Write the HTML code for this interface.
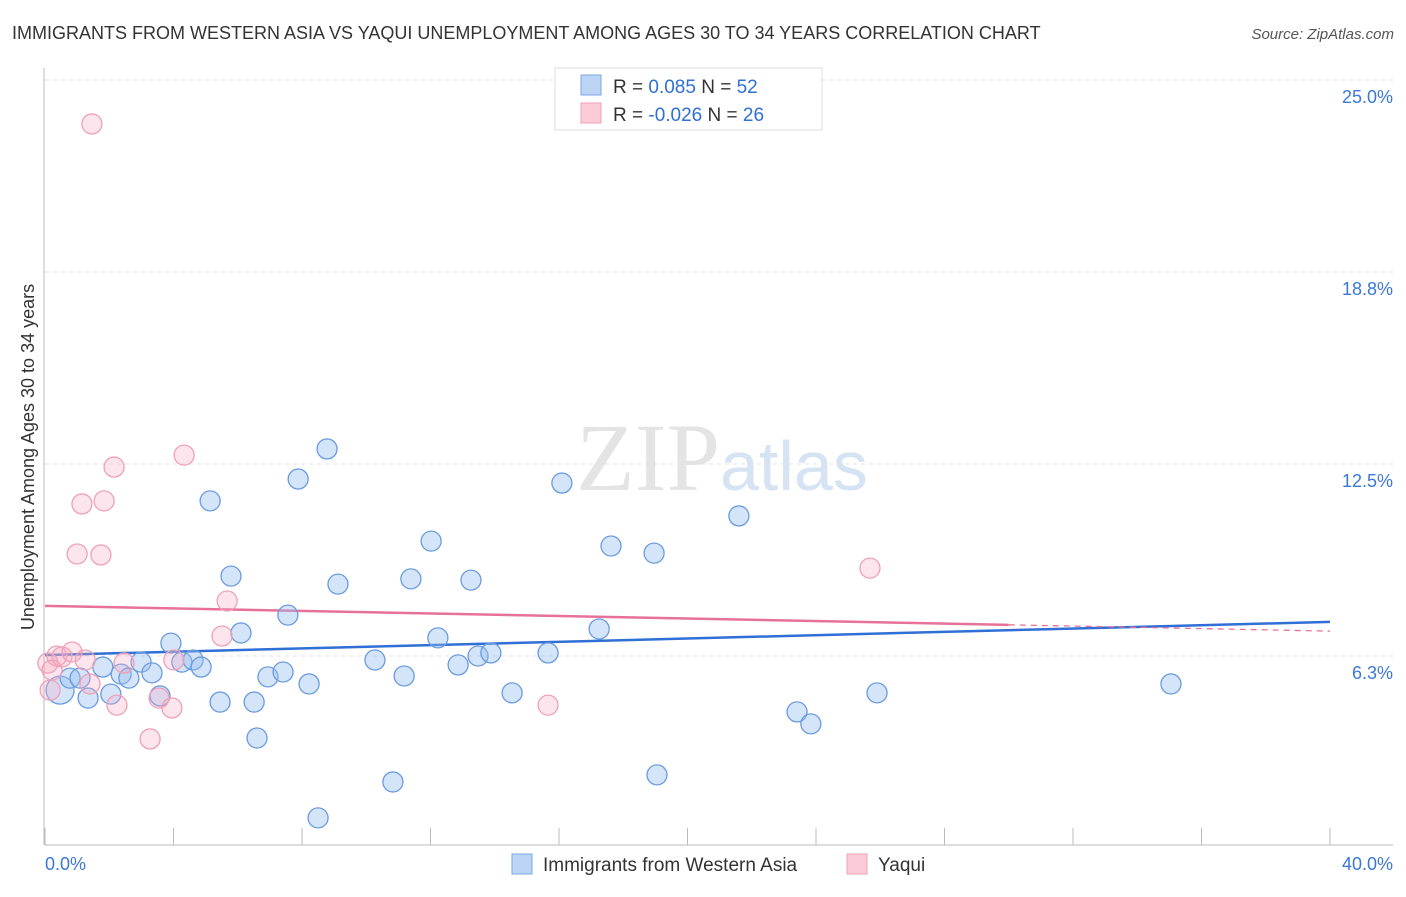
<!DOCTYPE html>
<html><head><meta charset="utf-8"><style>
body{margin:0;background:#fff;font-family:"Liberation Sans",sans-serif}
</style></head><body>
<svg width="1406" height="892" xmlns="http://www.w3.org/2000/svg" id="svg" style="font-family:'Liberation Sans',sans-serif">
<text x="12" y="39" font-size="18" fill="#333">IMMIGRANTS FROM WESTERN ASIA VS YAQUI UNEMPLOYMENT AMONG AGES 30 TO 34 YEARS CORRELATION CHART</text>
<text x="1394" y="39" font-size="15" fill="#555" font-style="italic" text-anchor="end">Source: ZipAtlas.com</text>
<text x="720" y="490" font-size="96" fill="#e4e4e4" font-family="Liberation Serif" text-anchor="end">ZIP</text>
<text x="720" y="490" font-size="70" fill="#d6e3f3">atlas</text>
<g id="grid"></g><g id="axes"></g><g id="lines"></g><g id="pts"></g>
<text transform="translate(34,457) rotate(-90)" font-size="18" fill="#333" text-anchor="middle">Unemployment Among Ages 30 to 34 years</text>
<g>
<rect x="555" y="68" width="267" height="62" fill="#fff" stroke="#ddd"/>
<rect x="581" y="75" width="20" height="20" fill="#bcd5f5" stroke="#7aa6e4"/>
<rect x="581" y="103" width="20" height="20" fill="#fbcbd8" stroke="#f0a0b8"/>
<text x="613" y="93" font-size="19" fill="#333">R =  <tspan fill="#2f6fd6">0.085</tspan>   N = <tspan fill="#2f6fd6">52</tspan></text>
<text x="613" y="121" font-size="19" fill="#333">R = <tspan fill="#2f6fd6">-0.026</tspan>   N = <tspan fill="#2f6fd6">26</tspan></text>
</g>
<g>
<rect x="512" y="854" width="20" height="20" fill="#bcd5f5" stroke="#7aa6e4"/>
<text x="543" y="871" font-size="19" fill="#333">Immigrants from Western Asia</text>
<rect x="847" y="854" width="20" height="20" fill="#fbcbd8" stroke="#f0a0b8"/>
<text x="878" y="871" font-size="19" fill="#333">Yaqui</text>
</g>
</svg>
<script>
const blueX=[0.47,0.78,1.09,1.34,1.80,2.05,2.37,2.61,2.99,3.33,3.58,3.92,4.26,4.61,4.86,5.14,5.45,5.79,6.10,6.51,6.60,6.94,7.41,7.56,7.88,8.22,8.50,8.78,9.12,10.27,10.83,11.18,11.39,12.02,12.23,12.86,13.26,13.48,13.88,14.54,15.66,16.09,17.25,17.62,18.96,19.05,21.60,23.41,23.84,25.90,35.05];
const blueY=[5.14,5.53,5.53,4.88,5.89,5.01,5.66,5.53,6.05,5.70,4.95,6.67,6.05,6.12,5.89,11.30,4.75,8.85,7.00,4.75,3.58,5.57,5.73,7.58,12.01,5.34,0.98,12.99,8.59,6.12,2.15,5.60,8.76,9.99,6.84,5.96,8.72,6.25,6.35,5.05,6.35,11.88,7.13,9.83,9.60,2.38,10.81,4.43,4.04,5.05,5.34];
const pinkX=[0.09,0.22,0.37,0.53,0.84,1.25,1.46,1.15,1.00,1.40,1.74,1.84,2.15,2.24,2.46,3.27,3.55,3.95,4.01,4.33,5.51,5.67,15.66,25.68,0.16];
const pinkY=[6.02,5.79,6.25,6.22,6.38,6.12,23.57,11.20,9.57,5.34,9.54,11.30,12.40,4.65,6.02,3.55,4.88,4.56,6.12,12.79,6.90,8.04,4.65,9.11,5.14];
const blueTrend=[6.28,7.36];
const pinkTrend=[7.88,7.06];
const yTicks=[25.0,18.8,12.5,6.3];
const xTickLabels=["0.0%","40.0%"];
const NS="http://www.w3.org/2000/svg";
const sx=v=>45+v*32.125, sy=v=>848-v*30.72;
function el(t,a,p){const e=document.createElementNS(NS,t);for(const k in a)e.setAttribute(k,a[k]);document.getElementById(p).appendChild(e);return e;}
yTicks.forEach(v=>{const y=sy(v===25?25:v===18.8?18.75:v===12.5?12.5:6.25);
const g=el('line',{x1:45,x2:1393,y1:y,y2:y,stroke:'#e2e2e2','stroke-dasharray':'4,4'},'grid');


const t=el('text',{x:1393,y:y+23,'font-size':18,fill:'#3b78d8','text-anchor':'end'},'grid');t.textContent=v.toFixed(1)+'%';

});
const ax=el('line',{x1:45,x2:1393,y1:845,y2:845,stroke:'#bbb'},'axes');


const ay=el('line',{x1:44,x2:44,y1:68,y2:845,stroke:'#bbb'},'axes');


for(let i=0;i<=10;i++){const x=sx(i*4);const t=el('line',{x1:x,x2:x,y1:828,y2:845,stroke:'#bbb'},'axes');

}
xTickLabels.forEach((s,i)=>{const t=el('text',{x:i?1393:45,y:870,'font-size':18,fill:'#3b78d8','text-anchor':i?'end':'start'},'axes');t.textContent=s;

});
blueX.forEach((x,i)=>{const c=el('circle',{cx:sx(x),cy:sy(blueY[i]),r:i===0?14:10,fill:'rgba(150,190,240,0.4)',stroke:'#6a9be0','stroke-width':1.3},'pts');

});
pinkX.forEach((x,i)=>{const c=el('circle',{cx:sx(x),cy:sy(pinkY[i]),r:10,fill:'rgba(245,170,192,0.3)',stroke:'#f0a0b8','stroke-width':1.3},'pts');

});
const bl=el('line',{x1:sx(0),y1:sy(blueTrend[0]),x2:sx(40),y2:sy(blueTrend[1]),stroke:'#2f6fd6','stroke-width':2.5},'lines');


const pm=pinkTrend[0]+(pinkTrend[1]-pinkTrend[0])*0.75;
const pl=el('line',{x1:sx(0),y1:sy(pinkTrend[0]),x2:sx(30),y2:sy(pm),stroke:'#e8719a','stroke-width':2.5},'lines');


const pd=el('line',{x1:sx(30),y1:sy(pm),x2:sx(40),y2:sy(pinkTrend[1]),stroke:'#e8719a','stroke-width':1.3,'stroke-dasharray':'6,5'},'lines');


</script>
</body></html>
